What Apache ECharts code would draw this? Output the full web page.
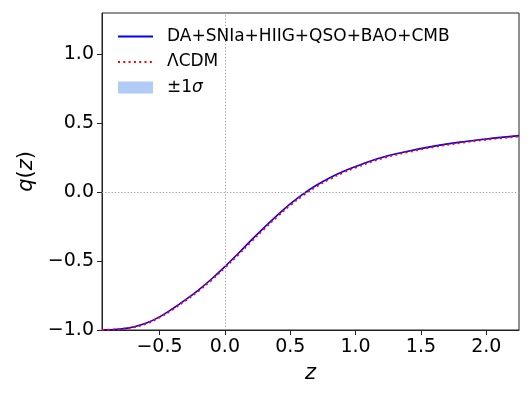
<!DOCTYPE html>
<html>
<head>
<meta charset="utf-8">
<script src="https://cdn.jsdelivr.net/npm/echarts@6/dist/echarts.min.js"></script>
<style>
html,body{margin:0;padding:0;background:#fff;}
#chart{width:531px;height:399px;}
</style>
</head>
<body>
<div id="chart"></div>
<script>
// Redshift grid
const zVals = [-0.94,-0.9,-0.8,-0.7,-0.6,-0.5,-0.4,-0.3,-0.2,-0.1,0,0.1,0.2,0.3,0.4,0.5,0.6,0.7,0.8,0.9,1.0,1.2,1.4,1.6,1.8,2.0,2.25];
// Reconstructed q(z) (DA+SNIa+HIIG+QSO+BAO+CMB)
const qFit = [-1.000,-0.999,-0.993,-0.978,-0.950,-0.905,-0.846,-0.780,-0.708,-0.628,-0.540,-0.447,-0.350,-0.257,-0.168,-0.085,-0.012,0.050,0.103,0.148,0.186,0.252,0.297,0.334,0.363,0.386,0.410];
// LambdaCDM q(z)
const qLCDM = [-1.000,-0.999,-0.994,-0.980,-0.953,-0.909,-0.851,-0.786,-0.715,-0.636,-0.548,-0.456,-0.360,-0.267,-0.178,-0.095,-0.022,0.041,0.094,0.140,0.179,0.245,0.291,0.328,0.357,0.381,0.404];
// 1-sigma half width
const sigma = [0.001,0.001,0.001,0.002,0.002,0.002,0.003,0.003,0.003,0.003,0.003,0.003,0.003,0.003,0.003,0.003,0.003,0.003,0.003,0.004,0.004,0.004,0.004,0.004,0.005,0.005,0.005];
const xTicks = [-0.5,0,0.5,1.0,1.5,2.0];
const yTicks = [-1.0,-0.5,0,0.5,1.0];
const labels = ['DA+SNIa+HIIG+QSO+BAO+CMB','ΛCDM','±1σ'];

const fmt = v => (v < 0 ? '\u2212' : '') + Math.abs(v).toFixed(1);
const bandData = zVals.map((z,i)=>[z, qFit[i]-sigma[i], qFit[i]+sigma[i]]);
const fit = zVals.map((z,i)=>[z, qFit[i]]);
const lcdm = zVals.map((z,i)=>[z, qLCDM[i]]);
const bandColor = 'rgba(100,149,237,0.5)';

const font = 'DejaVu Sans';
const chart = echarts.init(document.getElementById('chart'), null, {renderer:'canvas'});
chart.setOption({
  animation:false,
  backgroundColor:'#fff',
  grid:{left:102,right:12,top:13,bottom:69,show:true,borderColor:'#222',borderWidth:1,backgroundColor:'transparent'},
  legend:{
    left:117, top:27.5, padding:0, orient:'vertical', itemWidth:35, itemHeight:12, itemGap:7.5,
    formatter: n => n === labels[2] ? '±1{i|σ}' : n,
    textStyle:{fontFamily:font,fontSize:17,color:'#000',padding:[0,0,0,9],lineHeight:18,
      rich:{i:{fontFamily:font,fontSize:17,fontStyle:'italic',color:'#000'}}},
    data:[
      {name:labels[0],itemStyle:{opacity:0}},
      {name:labels[1],itemStyle:{opacity:0}},
      {name:labels[2],icon:'rect',itemStyle:{color:bandColor,opacity:1}}
    ]
  },
  xAxis:{
    type:'value', min:-0.94, max:2.25,
    name:'z', nameLocation:'middle', nameGap:33,
    nameTextStyle:{fontFamily:font,fontSize:21,fontStyle:'italic',color:'#000'},
    axisLine:{show:true,onZero:false,lineStyle:{color:'#222',width:1}},
    axisTick:{show:true,inside:false,length:5,customValues:xTicks,lineStyle:{color:'#222'}},
    axisLabel:{customValues:xTicks,formatter:fmt,fontFamily:font,fontSize:19,color:'#000',margin:8},
    splitLine:{show:false}
  },
  yAxis:{
    type:'value', min:-1.0, max:1.3,
    name:'{i|q}{n|(}{i|z}{n|)}', nameLocation:'middle', nameGap:62, nameRotate:90,
    nameTextStyle:{fontFamily:font,fontSize:21,color:'#000',
      rich:{i:{fontFamily:font,fontSize:21,fontStyle:'italic',color:'#000'},n:{fontFamily:font,fontSize:21,color:'#000'}}},
    axisLine:{show:true,onZero:false,lineStyle:{color:'#222',width:1}},
    axisTick:{show:true,inside:false,length:5,customValues:yTicks,lineStyle:{color:'#222'}},
    axisLabel:{customValues:yTicks,formatter:fmt,fontFamily:font,fontSize:19,color:'#000',margin:8},
    splitLine:{show:false}
  },
  series:[
    {name:labels[2],type:'custom',silent:true,z:1,
     itemStyle:{color:bandColor},
     data:[0],
     renderItem:(params, api) => {
       const up = bandData.map(d => api.coord([d[0], d[2]]));
       const lo = bandData.slice().reverse().map(d => api.coord([d[0], d[1]]));
       return {type:'polygon', shape:{points:up.concat(lo), smooth:0.3},
               style:{fill:bandColor, stroke:null},
               clipPath:{type:'rect',shape:{x:params.coordSys.x,y:params.coordSys.y,width:params.coordSys.width,height:params.coordSys.height}}};
     }},
    {name:labels[0],type:'line',data:fit,symbol:'none',smooth:0.4,
     lineStyle:{color:'#0000ff',width:1.6},itemStyle:{color:'#0000ff'},z:3,
     markLine:{silent:true,symbol:'none',label:{show:false},
       lineStyle:{color:'#999',type:[1.2,2],width:1},
       data:[{xAxis:0},{yAxis:0}]}},
    {name:labels[1],type:'line',data:lcdm,symbol:'none',smooth:0.4,
     lineStyle:{color:'#ff0000',width:2,type:[2,3.3]},itemStyle:{color:'#ff0000'},z:4}
  ]
});
</script>
</body>
</html>
